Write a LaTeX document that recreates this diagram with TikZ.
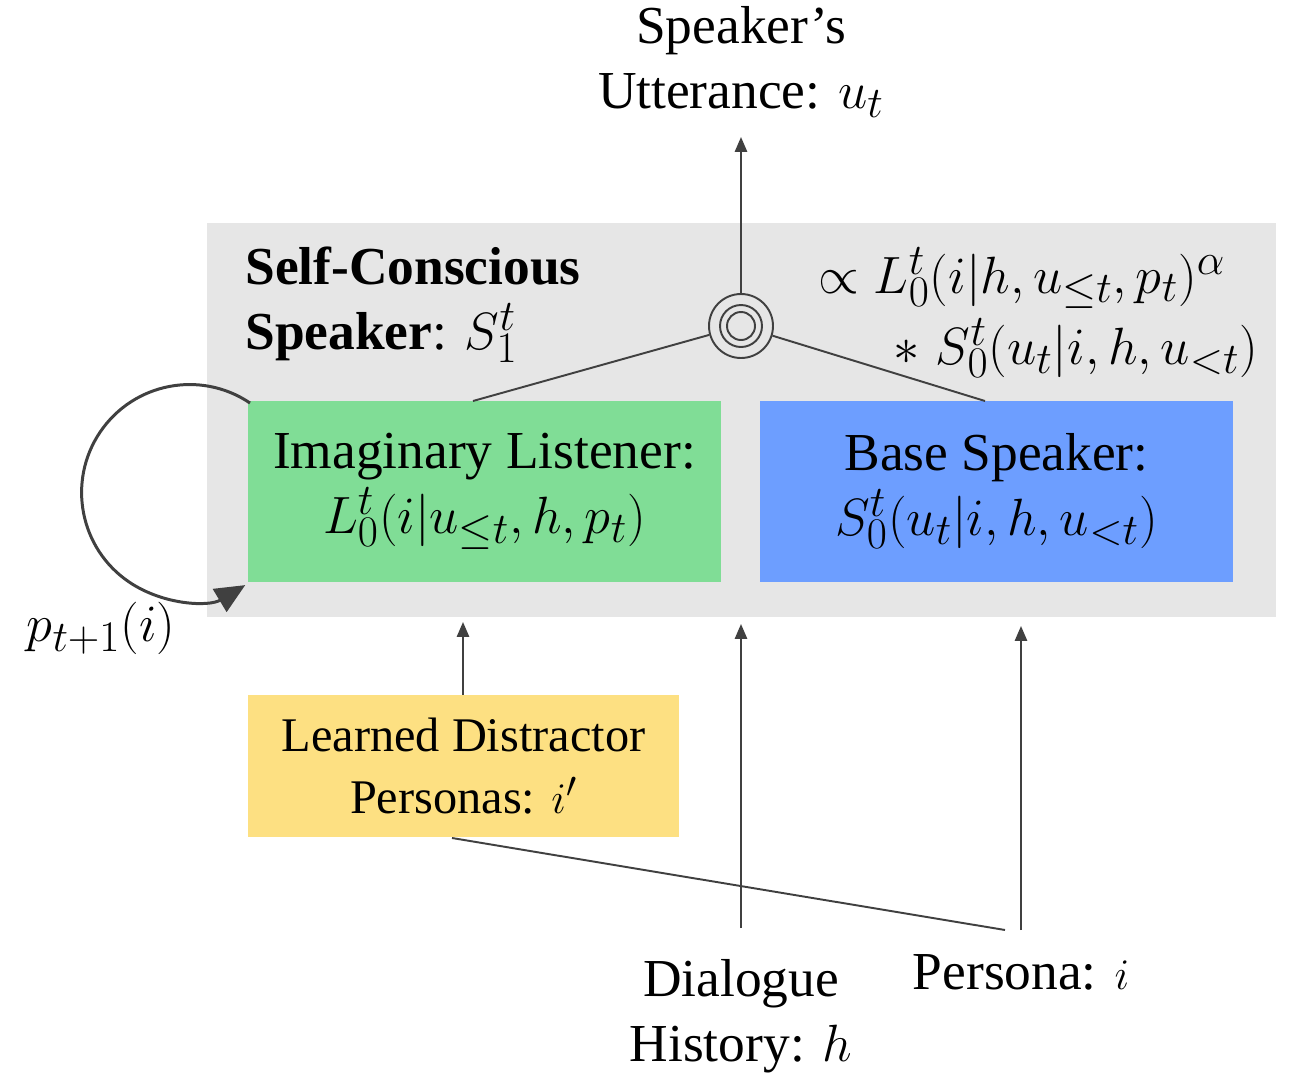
\documentclass[tikz,border=0pt]{standalone}
\usepackage{fontspec}
\usepackage{graphicx}
\setmainfont{Liberation Serif}
\usetikzlibrary{arrows.meta}
\definecolor{panel}{HTML}{E6E6E6}
\definecolor{lgreen}{HTML}{80DD96}
\definecolor{lblue}{HTML}{6D9EFF}
\definecolor{lyellow}{HTML}{FDE082}
\definecolor{ink}{HTML}{404040}
\newcommand\mth[1]{\scalebox{1.2}{$#1$}}
\begin{document}
\begin{tikzpicture}[x=0.02cm,y=-0.02cm,
  every node/.style={font=\fontsize{30.4}{37}\selectfont},
  box/.style={inner sep=0pt, align=center, minimum width=9.46cm, minimum height=3.62cm},
  conn/.style={draw=ink, line width=1.1pt},
  arr/.style={conn, -{Triangle[length=8.5pt,width=7pt]}},
  label/.style={align=center, inner sep=0pt}]
\useasboundingbox (0,0) rectangle (1289,1076);
% panel
\node[fill=panel, minimum width=21.38cm, minimum height=7.88cm, inner sep=0pt] (panel) at (741.5,420) {};
% boxes
\node[box, fill=lgreen] (green) at (484.5,491.5) {Imaginary Listener:\\\mth{L_0^t(i|u_{\le t},h,p_t)}};
\node[box, fill=lblue] (blue) at (996.5,491.5) {Base Speaker:\\\mth{S_0^t(u_t|i,h,u_{<t})}};
\node[box, fill=lyellow, minimum width=8.62cm, minimum height=2.84cm, font=\fontsize{27.5}{35}\selectfont] (yellow) at (463.5,766) {Learned Distractor\\Personas: $i'$};
% texts
\node[label] (utter) at (741,62) {Speaker’s\\Utterance: \mth{u_t}};
\node[label, anchor=west, align=left] (self) at (245,305) {\textbf{Self-Conscious}\\\textbf{Speaker}: \mth{S_1^t}};
\node[label] (f1) at (1022,278) {\mth{\propto L_0^t(i|h,u_{\le t},p_t)^\alpha}};
\node[label] (f2) at (1076,348) {\mth{*\ S_0^t(u_t|i,h,u_{<t})}};
\node[label] (dialog) at (741,1016) {Dialogue\\History: \mth{h}};
\node[label] (persona) at (1021,972) {Persona: $i$};
\node[label] (ploop) at (101,628) {\mth{p_{t+1}(i)}};
% combiner
\node[circle, draw=ink, line width=1.1pt, minimum size=1.28cm, inner sep=0pt] (circ) at (741,326) {};
\draw[conn] (circ.center) circle[radius=21];
\draw[conn] (circ.center) circle[radius=14];
% coordinates
\coordinate (uttip) at (741,137);
\coordinate (gtop) at (473,401);
\coordinate (btop) at (985,401);
\coordinate (ytip) at (463,622);
\coordinate (dstart) at (741,928);
\coordinate (dtip) at (741,624);
\coordinate (pstart) at (1021,930);
\coordinate (ptip) at (1021,626);
\coordinate (ybot) at (452,838);
\coordinate (pjoin) at (1005,930);
\coordinate (loopstart) at (250,403);
% connectors
\draw[arr] (circ.north) -- (uttip);
\draw[conn] (circ) -- (gtop);
\draw[conn] (circ) -- (btop);
\draw[arr] (yellow.north -| ytip) -- (ytip);
\draw[arr] (dstart) -- (dtip);
\draw[arr] (pstart) -- (ptip);
\draw[conn] (ybot) -- (pjoin);
% feedback loop
\draw[draw=ink, line width=1.7pt, -{Triangle[length=17pt,width=15pt]}]
  (loopstart) arc[start angle=-56, end angle=-301, radius=108];
\end{tikzpicture}
\end{document}
